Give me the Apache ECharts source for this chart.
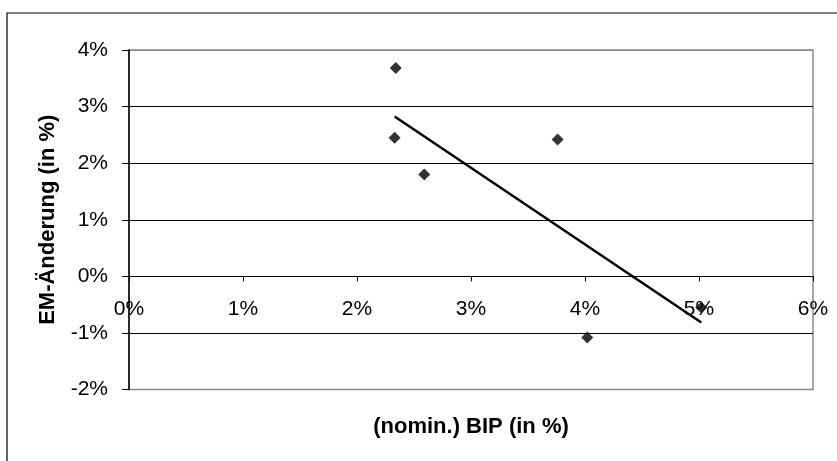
<!DOCTYPE html>
<html>
<head>
<meta charset="utf-8">
<script src="https://cdn.jsdelivr.net/npm/echarts@6/dist/echarts.min.js"></script>
<style>
html,body{margin:0;padding:0;background:#fff;}
#c{width:837px;height:461px;}
</style>
</head>
<body>
<div id="c"></div>
<script>
// Data (percent units)
const bipValues = [2.34, 2.33, 2.59, 3.76, 4.02, 5.02];
const emValues  = [3.68, 2.45, 1.80, 2.42, -1.08, -0.55];
const xTicks = [0, 1, 2, 3, 4, 5, 6];
const yTicks = [-2, -1, 0, 1, 2, 3, 4];
const xTitle = '(nomin.) BIP (in %)';
const yTitle = 'EM-Änderung (in %)';

// Linear trend line (least squares), like the spreadsheet trendline
function trend(xs, ys) {
  const n = xs.length;
  const mx = xs.reduce((a, b) => a + b, 0) / n;
  const my = ys.reduce((a, b) => a + b, 0) / n;
  let sxy = 0, sxx = 0;
  for (let i = 0; i < n; i++) { sxy += (xs[i] - mx) * (ys[i] - my); sxx += (xs[i] - mx) ** 2; }
  const b = sxy / sxx, a = my - b * mx;
  const x0 = Math.min(...xs), x1 = Math.max(...xs);
  return [[x0, a + b * x0], [x1, a + b * x1]];
}

const points = bipValues.map((x, i) => [x, emValues[i]]);
const trendLine = trend(bipValues, emValues);

const gridTop = 50, gridBottom = 71.5;
const plotH = 461 - gridTop - gridBottom;
const yMin = yTicks[0], yMax = yTicks[yTicks.length - 1];
// distance from the bottom of the plot up to the zero line
const zeroOffset = plotH * (0 - yMin) / (yMax - yMin);

const chart = echarts.init(document.getElementById('c'), null, { renderer: 'canvas' });
const font = '"Liberation Sans", Arial, sans-serif';
chart.setOption({
  animation: false,
  backgroundColor: '#fff',
  graphic: [{
    type: 'rect',
    shape: { x: 7, y: 13, width: 840, height: 460 },
    style: { fill: 'none', stroke: '#000', lineWidth: 1.2 },
    silent: true
  }],
  grid: { left: 129, top: gridTop, right: 24, bottom: gridBottom, containLabel: false, outerBoundsMode: 'none',
          show: true, borderColor: '#8a8a8a', borderWidth: 1.5 },
  xAxis: {
    type: 'value',
    position: 'bottom',
    offset: -zeroOffset,
    min: xTicks[0], max: xTicks[xTicks.length - 1], interval: 1,
    name: xTitle, nameLocation: 'middle', nameGap: 140,
    nameTextStyle: { fontFamily: font, fontSize: 22, fontWeight: 'bold', color: '#000' },
    axisLine: { onZero: false, lineStyle: { color: '#000', width: 1 } },
    axisTick: { show: true, inside: false, length: 5, lineStyle: { color: '#000' } },
    axisLabel: { fontFamily: font, fontSize: 21, color: '#000', margin: 22, formatter: v => v + '%' },
    splitLine: { show: false }
  },
  yAxis: {
    type: 'value',
    min: yMin, max: yMax, interval: 1,
    name: yTitle, nameLocation: 'middle', nameGap: 70,
    nameTextStyle: { fontFamily: font, fontSize: 22, fontWeight: 'bold', color: '#000' },
    axisLine: { show: true, onZero: false, lineStyle: { color: '#000', width: 1.5 } },
    axisTick: { show: true, inside: false, length: 7, lineStyle: { color: '#000' } },
    axisLabel: { fontFamily: font, fontSize: 21, color: '#000', margin: 21, formatter: v => v + '%' },
    splitLine: { show: true, lineStyle: { color: ['#8a8a8a', '#000', '#000', '#000', '#000', '#000', '#8a8a8a'], width: 1 } }
  },
  series: [
    {
      type: 'line',
      data: trendLine,
      symbol: 'none',
      lineStyle: { color: '#000', width: 2.5 },
      z: 3
    },
    {
      type: 'scatter',
      data: points,
      symbol: 'diamond',
      symbolSize: [12, 12],
      itemStyle: { color: '#000' },
      z: 4
    }
  ]
});
</script>
</body>
</html>
